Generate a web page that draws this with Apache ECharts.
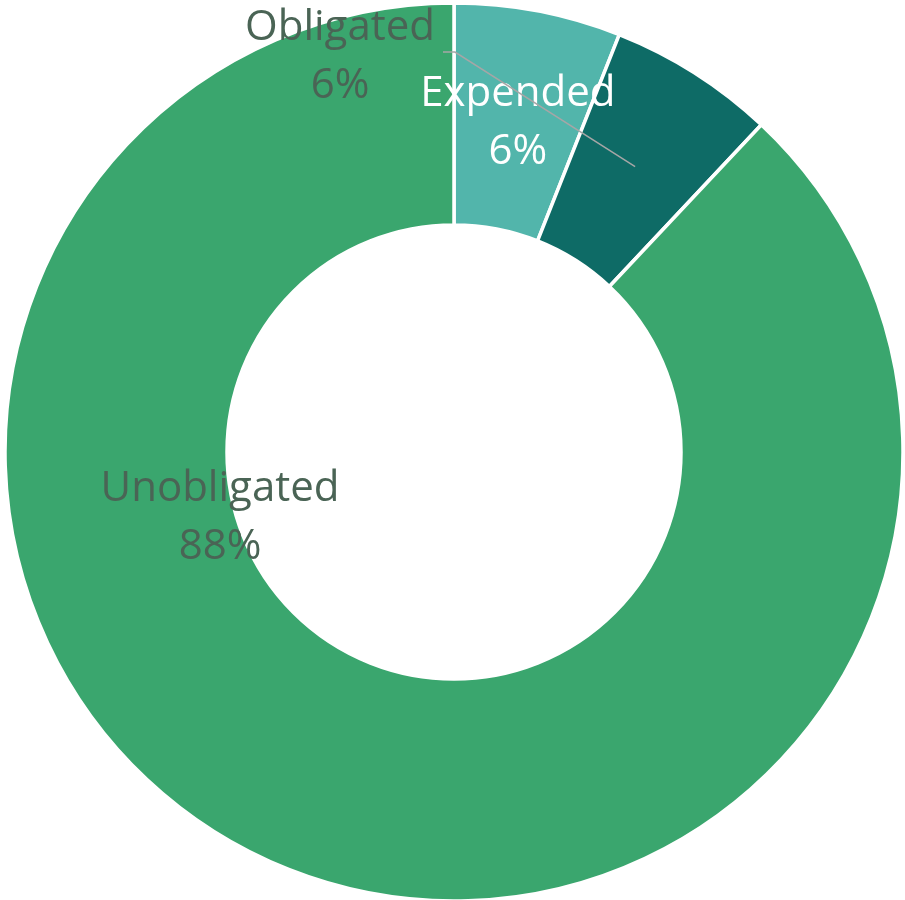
<!DOCTYPE html>
<html>
<head>
<meta charset="utf-8">
<script src="https://cdn.jsdelivr.net/npm/echarts@6/dist/echarts.min.js"></script>
<style>
  html, body { margin: 0; padding: 0; background: #ffffff; }
  #chart { width: 905px; height: 900px; }
</style>
</head>
<body>
<div id="chart"></div>
<script>
// Funding status shares (percent of total)
const categories = ['Expended', 'Obligated', 'Unobligated'];
const shares = [6, 6, 88];
const sliceColors = ['#52b5ab', '#0e6b66', '#3aa66e'];

const cx = 454, cy = 452;
const rInner = 227, rOuter = 449;
const labelFont = '"Open Sans", Lato, sans-serif';
const darkLabel = '#4a6455';

// Where the moved labels sit
const labelSpots = {
  Obligated: [340, 57],
  Unobligated: [220, 518]
};

const chart = echarts.init(document.getElementById('chart'));

// Leader from the middle of the Obligated ring segment to its label
const total = shares.reduce((a, b) => a + b, 0);
const before = shares[0];
const midFrac = (before + shares[1] / 2) / total;
const midAng = midFrac * 2 * Math.PI;
const midR = (rInner + rOuter) / 2;
const leadStart = [cx + midR * Math.sin(midAng), cy - midR * Math.cos(midAng)];

chart.setOption({
  backgroundColor: '#ffffff',
  animation: false,
  series: [{
    type: 'pie',
    center: [cx, cy],
    radius: [rInner, rOuter],
    startAngle: 90,
    clockwise: true,
    avoidLabelOverlap: false,
    itemStyle: { borderColor: '#ffffff', borderWidth: 3.5 },
    label: {
      show: true,
      position: 'inside',
      formatter: '{b}\n{c}%',
      fontFamily: labelFont,
      fontSize: 42,
      lineHeight: 58,
      color: darkLabel
    },
    labelLine: { show: false },
    labelLayout: function (params) {
      const name = categories[params.dataIndex];
      const spot = labelSpots[name];
      if (!spot) return { dy: 6 };
      return { x: spot[0], y: spot[1], align: 'center', verticalAlign: 'middle' };
    },
    data: categories.map((name, i) => ({
      name: name,
      value: shares[i],
      itemStyle: { color: sliceColors[i] },
      label: name === 'Expended' ? { color: '#ffffff' } : {}
    }))
  }],
  graphic: [{
    type: 'polyline',
    z: 100,
    shape: {
      points: [
        leadStart,
        [455, 52],
        [443, 52]
      ]
    },
    style: { stroke: '#a6a6a6', lineWidth: 1.5, fill: null }
  }]
});
</script>
</body>
</html>
